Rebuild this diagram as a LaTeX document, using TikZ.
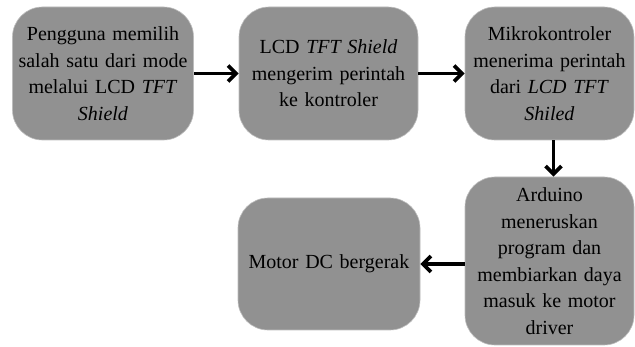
\documentclass[tikz,border=0pt]{standalone}
\usepackage{fontspec}
\setmainfont{Liberation Serif}
\usetikzlibrary{arrows.meta}
\definecolor{boxgray}{RGB}{145,145,145}
\tikzset{
  flowbox/.style={fill=boxgray, draw=boxgray!60!white, line width=0.6pt, rounded corners=30pt,
    align=center, inner sep=1pt, text=black, font=\fontsize{20}{26.5}\selectfont},
  flowarrow/.style={line width=3.8pt, -{Straight Barb[length=8pt,width=16pt,line width=3.8pt]}}
}
\begin{document}
\begin{tikzpicture}[x=1pt,y=-1pt]
\useasboundingbox (0,0) rectangle (635,347);
\fill[white] (0,0) rectangle (635,347);
\node[flowbox, minimum width=181pt, minimum height=133pt, text width=179pt] (pilih) at (103,73.5)
  {Pengguna memilih\\salah satu dari mode\\melalui LCD \textit{TFT}\\\textit{Shield}};
\node[flowbox, minimum width=179pt, minimum height=133pt, text width=177pt] (kirim) at (328.5,73.5)
  {LCD \textit{TFT Shield}\\mengerim perintah\\ke kontroler};
\node[flowbox, minimum width=169pt, minimum height=133pt, text width=167pt] (terima) at (549.5,73.5)
  {Mikrokontroler\\menerima perintah\\dari \textit{LCD TFT}\\\textit{Shiled}};
\node[flowbox, minimum width=169pt, minimum height=168pt, text width=167pt] (arduino) at (549.5,261)
  {Arduino\\meneruskan\\program dan\\membiarkan daya\\masuk ke motor\\driver};
\node[flowbox, minimum width=182pt, minimum height=132pt, text width=180pt] (motor) at (329,264)
  {Motor DC bergerak};
\draw[flowarrow] (pilih.east) -- (kirim.west);
\draw[flowarrow] (kirim.east) -- (terima.west);
\draw[flowarrow] ([xshift=4pt]terima.south) -- ([xshift=4pt]arduino.north);
\draw[flowarrow] (arduino.west |- motor.east) -- (motor.east);
\end{tikzpicture}
\end{document}
